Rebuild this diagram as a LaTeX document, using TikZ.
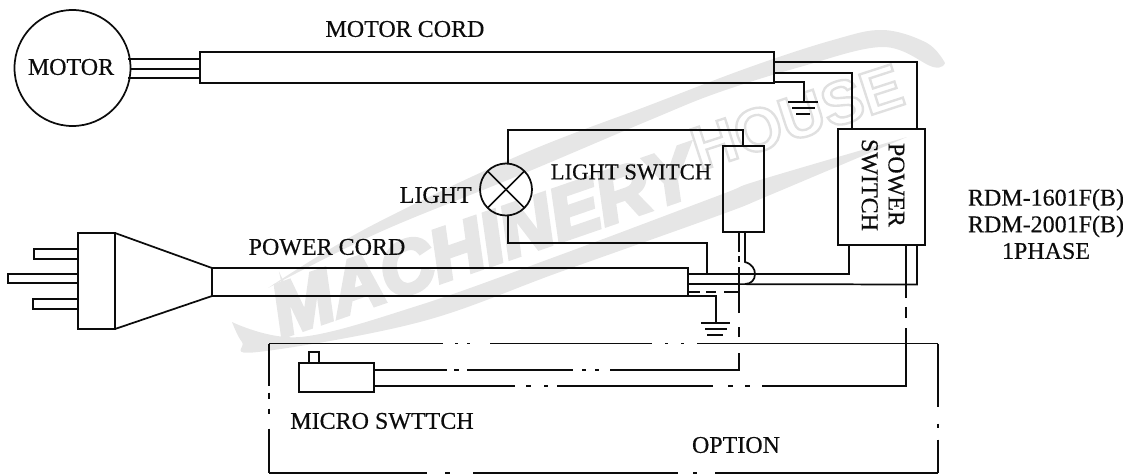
\documentclass[tikz,border=0pt]{standalone}
\usepackage{fontspec}
\setmainfont[FakeBold=0.35]{Liberation Serif}
\newfontfamily\wmfont{Liberation Sans}
\definecolor{wmgray}{HTML}{E6E6E6}
\definecolor{ink}{HTML}{0C0C0C}
\tikzset{
  wire/.style={draw=ink,line width=1.3pt,line join=miter},
  box/.style={draw=ink,line width=1.3pt,rectangle,inner sep=0pt,outer sep=0pt},
  round/.style={draw=ink,line width=1.3pt,circle,inner sep=0pt,outer sep=0pt},
  lbl/.style={text=ink,inner sep=0pt,font=\fontsize{18}{20}\selectfont},
  wmtext/.style={text=wmgray,inner sep=0pt},
  band/.style={fill=wmgray,draw=none}
}
\begin{document}
\begin{tikzpicture}[x=0.75pt,y=-0.75pt]
\useasboundingbox (0,0) rectangle (1134,475);
% watermark
\path[band] plot[smooth,tension=.6] coordinates {(232,322) (242,342) (258,352) (420,322) (560,272) (720,215) (770,195) (907,137)} -- plot[smooth,tension=.6] coordinates {(907,137) (760,180) (720,195) (560,255) (420,305) (300,337) (232,322)} -- cycle;
\path[band] plot[smooth,tension=.6] coordinates {(268,288) (367,228) (520,155) (650,105) (750,67) (833,40) (883,30) (927,43) (945,63)} -- plot[smooth,tension=.6] coordinates {(945,63) (933,67) (883,47) (800,67) (717,93) (650,120) (520,175) (380,232) (268,288)} -- cycle;
\node[wmtext,rotate=19,font=\wmfont\bfseries\itshape\fontsize{55}{58}\selectfont] (wm1) at (483,241) {\special{pdf:literal direct 2 Tr 3.2 w 0.902 G}MACHINERY\special{pdf:literal direct 0 Tr 1 w}};
\node[wmtext,rotate=18,font=\wmfont\bfseries\fontsize{46}{48}\selectfont] (wm2) at (797,117) {\special{pdf:literal direct 1 Tr 1.8 w 0.88 G}HOUSE\special{pdf:literal direct 0 Tr 1 w}};
% motor and motor cord
\node[round,minimum size=116*.75pt] (motor) at (72.5,68) {};
\node[lbl] (motorlbl) at (71,67) {MOTOR};
\node[box,minimum width=574*.75pt,minimum height=31*.75pt] (motorcord) at (487,67.5) {};
\node[lbl] (motorcordlbl) at (405,29) {MOTOR CORD};
\coordinate (ma) at (128,59); \coordinate (mb) at (130,69); \coordinate (mc) at (128,78);
\coordinate (ca) at (200,59); \coordinate (cb) at (200,69); \coordinate (cc) at (200,78);
\draw[wire] (ma) -- (ca); \draw[wire] (mb) -- (cb); \draw[wire] (mc) -- (cc);
% switches and lamp
\node[box,minimum width=87*.75pt,minimum height=116*.75pt] (powersw) at (881.5,187) {};
\node[lbl,rotate=-90,align=center] (powerswlbl) at (883,185) {POWER\\SWITCH};
\node[box,minimum width=41*.75pt,minimum height=86*.75pt] (lightsw) at (743.5,189) {};
\node[round,minimum size=52*.75pt] (lamp) at (506,189.5) {};
\draw[wire] (lamp.45) -- (lamp.225);
\draw[wire] (lamp.135) -- (lamp.315);
\node[lbl,anchor=east] (lightlbl) at (472,195) {LIGHT};
\node[lbl,font=\fontsize{17}{20}\selectfont] (lightswlbl) at (631,172) {LIGHT SWITCH};
\node[lbl,align=center] (modellbl) at (1046,224) {RDM-1601F(B)\\RDM-2001F(B)\\1PHASE};
% motor cord wires
\coordinate (m1) at (774,62); \coordinate (m2) at (774,73); \coordinate (m3) at (774,82);
\coordinate (ps1) at (917,129); \coordinate (ps2) at (852,129);
\coordinate (g1) at (804,102);
\draw[wire] (m1) -| (ps1);
\draw[wire] (m2) -| (ps2);
\draw[wire] (m3) -| (g1);
\draw[wire] (788,102) -- (818,102);
\draw[wire] (792,108) -- (815,108);
\draw[wire,line width=.9pt] (796,114) -- (810,114);
% lamp wires
\coordinate (lsTop) at (743,146); \coordinate (lsBot) at (745,232);
\coordinate (lampT) at (508,164); \coordinate (lampB) at (508,215);
\coordinate (pt) at (707,274);
\draw[wire] (lampT) -- (508,130) -| (lsTop);
\draw[wire] (lampB) -- (508,243) -| (pt);
% plug
\node[box,minimum width=37*.75pt,minimum height=96*.75pt] (plugbase) at (96.5,281) {};
\node[box,minimum width=476*.75pt,minimum height=28*.75pt] (powercord) at (450,282) {};
\draw[wire] (plugbase.north east) -- (powercord.north west) -- (powercord.south west) -- (plugbase.south east);
\node[box,minimum width=44*.75pt,minimum height=10*.75pt] (prong1) at (56,254) {};
\node[box,minimum width=70*.75pt,minimum height=9*.75pt] (prong2) at (43,278.5) {};
\node[box,minimum width=45*.75pt,minimum height=10*.75pt] (prong3) at (55.5,304) {};
\node[lbl] (powercordlbl) at (327,247) {POWER CORD};
% power cord wires
\coordinate (p1) at (688,274); \coordinate (p2) at (688,284); \coordinate (p3) at (688,292); \coordinate (p4) at (688,296);
\coordinate (ps3) at (849,245); \coordinate (ps4) at (917,245); \coordinate (hop) at (745,284);
\coordinate (g2) at (716,322);
\draw[wire] (p1) -| (ps3);
\draw[wire] (p2) -- (917,284.5) -- (ps4);
\draw[wire] (p4) -| (g2);
\draw[wire] (701,323) -- (730,323);
\draw[wire] (705,329) -- (727,329);
\draw[wire] (707,335) -- (723,335);
\draw[wire] (lsBot) -- (745,262) .. controls (752,264) and (755,269) .. (755,274) .. controls (755,280) and (751,284) .. (hop);
\draw[wire,dash pattern=on 9pt off 4.5pt on 7.5pt off 6pt on 10.5pt off 40pt] (p3) -- (739,292);
% option loop
\coordinate (otl) at (269,343.5); \coordinate (otr) at (938,343.5);
\coordinate (obl) at (269,473); \coordinate (obr) at (938,473);
\draw[wire,dash pattern=on 130.5pt off 9pt on 2.25pt off 6.75pt on 2.25pt off 15pt on 121.5pt off 9.75pt on 2.25pt off 9.75pt on 2.25pt off 9.75pt on 181pt off 40pt] (otl) -- (otr);
\draw[wire,dash pattern=on 31.5pt off 5.25pt on 4.5pt off 7.5pt on 3.75pt off 11.25pt on 34pt off 40pt] (otl) -- (obl);
\draw[wire,dash pattern=on 118.5pt off 13.5pt on 3.75pt off 17.25pt on 153.75pt off 11.25pt on 3pt off 13.5pt on 168pt off 40pt] (obl) -- (obr);
\draw[wire,dash pattern=on 47.25pt off 12.75pt on 3pt off 9pt on 25pt off 40pt] (otr) -- (obr);
% micro switch
\node[box,minimum width=75*.75pt,minimum height=29*.75pt] (micro) at (336.5,377.5) {};
\node[box,anchor=south,minimum width=10*.75pt,minimum height=11*.75pt] (microtab) at (314,363) {};
\node[lbl] (microlbl) at (382,421) {MICRO SWTTCH};
\node[lbl] (optionlbl) at (736,445) {OPTION};
\coordinate (mu) at (374,370); \coordinate (ml) at (374,386);
\coordinate (lsDash) at (739,232); \coordinate (psDash) at (906,245);
\draw[wire,dash pattern=on 54.75pt off 5.25pt on 3.75pt off 6pt on 79.5pt off 6.75pt on 3pt off 6.75pt on 3pt off 8.25pt on 109.5pt off 12pt on 7.5pt off 10.5pt on 34.5pt off 3.75pt on 4.5pt off 3pt on 15pt off 40pt] (mu) -- (739,370) -- (lsDash);
\draw[wire,dash pattern=on 105.75pt off 8.25pt on 3.75pt off 9.75pt on 3pt off 6.75pt on 117pt off 11.25pt on 3.75pt off 9pt on 3.75pt off 9pt on 151.5pt off 7.5pt on 8.25pt off 6.75pt on 40pt off 40pt] (ml) -- (906,386) -- (psDash);
\end{tikzpicture}
\end{document}
